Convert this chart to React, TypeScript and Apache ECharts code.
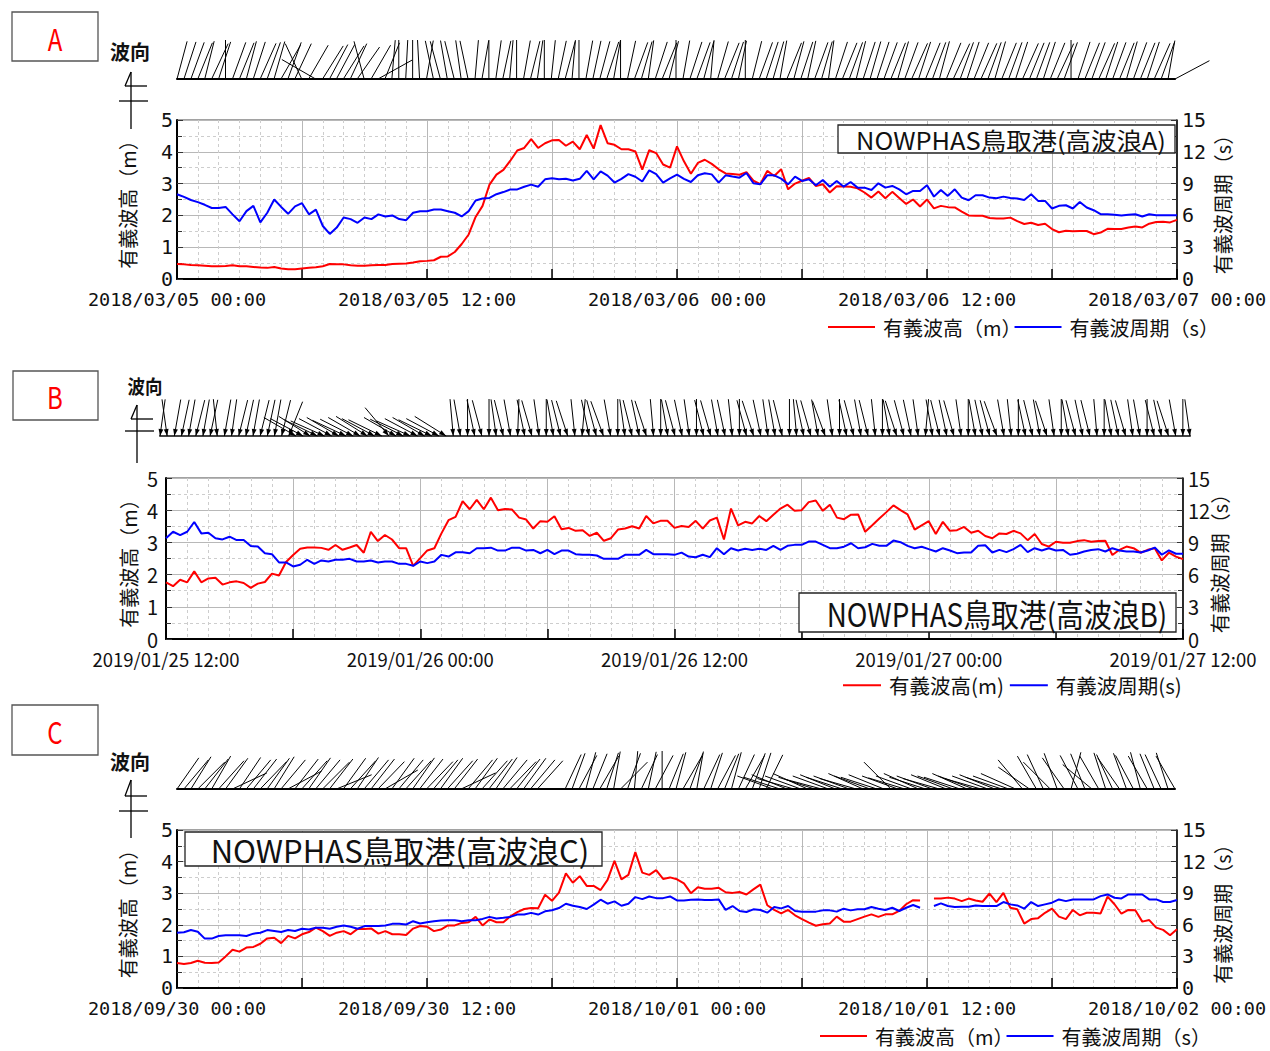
import React, { useEffect, useRef } from 'react';
import * as echarts from 'echarts';

const FONT_CJK = "'Noto Sans CJK JP', 'Noto Sans', sans-serif";
const FONT_MONO = "'DejaVu Sans Mono', 'Noto Sans CJK JP', monospace";

// records every 20 minutes over 48 hours (145 records per series)
const STEP_HOURS = 1 / 3;

// ---------------- Panel A : 2018/03/05 - 2018/03/07 ----------------
const A_TIME_LABELS = ['2018/03/05 00:00', '2018/03/05 12:00', '2018/03/06 00:00', '2018/03/06 12:00', '2018/03/07 00:00'];
const A_HS = [
  0.47, 0.46, 0.44, 0.43, 0.42, 0.40, 0.40, 0.41, 0.43, 0.40,
  0.40, 0.38, 0.36, 0.35, 0.38, 0.33, 0.31, 0.31, 0.33, 0.35,
  0.37, 0.40, 0.47, 0.46, 0.46, 0.43, 0.42, 0.42, 0.43, 0.44,
  0.44, 0.47, 0.48, 0.49, 0.52, 0.56, 0.57, 0.59, 0.70, 0.71,
  0.85, 1.10, 1.40, 1.95, 2.30, 2.97, 3.28, 3.43, 3.72, 4.04,
  4.12, 4.40, 4.12, 4.27, 4.36, 4.37, 4.19, 4.32, 4.08, 4.53,
  4.10, 4.84, 4.27, 4.22, 4.08, 4.08, 4.01, 3.44, 4.05, 3.96,
  3.60, 3.50, 4.17, 3.70, 3.31, 3.65, 3.75, 3.62, 3.45, 3.32,
  3.30, 3.28, 3.36, 3.09, 2.98, 3.40, 3.24, 3.45, 2.82, 3.00,
  3.09, 3.18, 2.92, 2.98, 2.72, 2.92, 2.91, 2.90, 2.85, 2.72,
  2.56, 2.75, 2.54, 2.74, 2.55, 2.36, 2.50, 2.28, 2.50, 2.22,
  2.30, 2.26, 2.25, 2.12, 2.00, 1.99, 1.99, 1.92, 1.90, 1.90,
  1.93, 1.82, 1.73, 1.77, 1.70, 1.74, 1.57, 1.47, 1.52, 1.50,
  1.51, 1.51, 1.41, 1.46, 1.58, 1.57, 1.57, 1.62, 1.65, 1.62,
  1.74, 1.79, 1.80, 1.78, 1.86,
];
const A_TP = [
  8.0, 7.75, 7.45, 7.25, 7.0, 6.7, 6.7, 6.8, 6.1, 5.45,
  6.4, 6.9, 5.35, 6.25, 7.5, 6.8, 6.15, 6.85, 7.15, 6.1,
  6.55, 5.0, 4.25, 4.85, 5.8, 5.65, 5.3, 5.8, 5.65, 6.1,
  5.9, 6.0, 5.65, 5.55, 6.25, 6.4, 6.4, 6.55, 6.55, 6.4,
  6.25, 5.9, 6.4, 7.4, 7.6, 7.65, 8.0, 8.2, 8.45, 8.45,
  8.7, 8.9, 8.7, 9.4, 9.5, 9.4, 9.45, 9.3, 9.45, 10.2,
  9.4, 10.15, 9.75, 9.1, 9.45, 9.9, 9.65, 9.2, 10.25, 9.9,
  9.1, 9.5, 9.85, 9.45, 9.15, 9.78, 9.97, 9.87, 9.09, 9.78,
  9.66, 9.56, 10.0, 9.03, 8.93, 9.78, 9.78, 9.47, 8.93, 9.66,
  9.25, 9.40, 8.84, 9.34, 8.71, 9.25, 8.71, 9.15, 8.62, 8.62,
  8.40, 9.03, 8.62, 8.78, 8.46, 7.99, 8.31, 8.31, 8.84, 7.77,
  8.40, 7.84, 8.46, 7.68, 7.43, 7.9, 7.9, 7.68, 7.62, 7.77,
  7.65, 7.59, 7.46, 7.99, 7.37, 7.37, 6.65, 6.9, 6.96, 6.65,
  7.27, 6.74, 6.49, 6.11, 6.11, 6.05, 5.99, 6.05, 6.11, 5.89,
  6.11, 6.02, 6.02, 6.02, 6.02,
];
// wave direction, degrees from north (clockwise)
const A_DIR = [
  15, 18, 20, 22, 14, 25, 18, 0, 20, 22, 15, 18, 24, 20, 16, 30,
  20, 25, -25, 30, -60, 32, 28,
  28, 32, 25, 35, -15, 30, 61, 22, 5, 0, 3,
  0, -3, 10, -12, -15, -10, -14, -8, -12, 5, 10, 0, 8, 12, 5, 0, 10, 14, 8, 0, 6, 12, 15, 5, 0, 10, 12,
  15, 18, 10, 0, 12, 20, 16, 8, 18, 22, 14, 0, 10, 18, 20, 15, 5, 16, 22, 18,
  12, 0, 14, 20, 18, 16, 10, 22, 15, 18, 12, 20, 16, 8, 18, 22, 20, 14, 18, 16,
  18, 20, 22, 16, 20, 24, 18, 22, 20, 15, 22, 25, 20, 18, 22, 24, 20, 16, 22, 20, 18, 24,
  22, 20, 18, 22, 25, 20, 0, 18, 22, 20, 24, 18, 20, 22, 16, 20, 22, 18, 24, 20, 10,
  62,
];

// ---------------- Panel B : 2019/01/25 12:00 - 2019/01/27 12:00 ----------------
const B_TIME_LABELS = ['2019/01/25 12:00', '2019/01/26 00:00', '2019/01/26 12:00', '2019/01/27 00:00', '2019/01/27 12:00'];
const B_HS = [
  1.76, 1.64, 1.84, 1.76, 2.10, 1.76, 1.88, 1.90, 1.69, 1.76,
  1.79, 1.74, 1.59, 1.72, 1.77, 2.03, 1.97, 2.39, 2.61, 2.80,
  2.84, 2.84, 2.83, 2.77, 2.92, 2.77, 2.84, 2.92, 2.68, 3.33,
  3.04, 3.23, 3.09, 2.82, 2.82, 2.27, 2.51, 2.75, 2.82, 3.28,
  3.69, 3.79, 4.28, 4.03, 4.32, 4.03, 4.39, 4.00, 4.04, 4.02,
  3.77, 3.71, 3.43, 3.66, 3.64, 3.81, 3.41, 3.45, 3.36, 3.38,
  3.20, 3.30, 3.05, 3.13, 3.40, 3.43, 3.50, 3.43, 3.82, 3.59,
  3.67, 3.67, 3.45, 3.51, 3.48, 3.67, 3.43, 3.68, 3.77, 3.09,
  4.05, 3.53, 3.64, 3.59, 3.82, 3.66, 3.86, 4.05, 4.17, 3.98,
  4.00, 4.25, 4.30, 3.98, 4.17, 3.77, 3.72, 3.86, 3.87, 3.33,
  3.53, 3.74, 3.94, 4.15, 4.00, 3.87, 3.40, 3.53, 3.66, 3.26,
  3.64, 3.36, 3.38, 3.48, 3.30, 3.36, 3.20, 3.13, 3.28, 3.26,
  3.36, 3.28, 3.07, 3.26, 2.95, 2.87, 3.02, 2.99, 2.99, 3.04,
  3.07, 3.02, 3.04, 3.05, 2.61, 2.77, 2.87, 2.82, 2.68, 2.77,
  2.82, 2.44, 2.68, 2.56, 2.48,
];
const B_TP = [
  9.38, 9.99, 9.68, 9.99, 10.9, 9.84, 9.9, 9.38, 9.28, 9.53,
  9.22, 9.22, 8.67, 8.61, 7.99, 7.9, 7.13, 7.13, 6.76, 6.92,
  7.38, 7.0, 7.32, 7.22, 7.38, 7.38, 7.47, 7.22, 7.22, 7.32,
  7.13, 7.22, 7.22, 7.0, 7.0, 6.82, 7.22, 7.07, 7.22, 7.84,
  7.68, 8.08, 8.08, 7.99, 8.45, 8.45, 8.51, 8.24, 8.24, 8.51,
  8.51, 8.24, 8.3, 7.99, 8.3, 7.9, 8.24, 8.24, 7.9, 7.84,
  7.84, 7.78, 7.47, 7.47, 7.47, 7.84, 7.84, 7.84, 8.3, 7.9,
  7.9, 7.9, 7.84, 8.05, 7.68, 7.62, 7.85, 7.63, 8.46, 7.9,
  8.46, 8.25, 8.4, 8.3, 8.4, 8.3, 8.68, 8.3, 8.68, 8.77,
  8.77, 9.08, 9.08, 8.77, 8.46, 8.46, 8.6, 8.92, 8.46, 8.55,
  8.86, 8.68, 8.68, 9.17, 9.02, 8.68, 8.46, 8.6, 8.37, 8.15,
  8.46, 8.25, 8.0, 8.06, 8.06, 8.68, 8.74, 8.06, 8.3, 8.09,
  8.37, 8.77, 8.09, 8.46, 8.25, 8.46, 8.25, 8.3, 7.85, 7.94,
  8.15, 8.3, 8.37, 8.15, 8.46, 8.25, 8.15, 8.15, 8.06, 8.25,
  8.52, 7.85, 8.25, 7.94, 7.94,
];
const B_DIR = [
  8, -8, 10, 12, 10, 14, 10, 12, -6, 10, 8, 14, 12, 10, 14, 12, 10, 14, 22,
  -60, -62, -58, -64, -66, -62, -60, -65, -63, -60, -58, -62, -64, -40, -60, -63, -66, -62, -60, -64, -62, -58,
  -5, -10, 0, -12, -15, 0, -8, -14, -10, 2,
  -12, -16, -8, 0, -10, -14, -18, -6, 5, -12,
  -15, -20, -10, 0, -8, -14, -12, -18, -5, 0,
  -10, -15, -12, -8, 0, -14, -16, -10, -12, -6,
  0, -15, -18, -12, -8, -10, -14, 0, -5, -12,
  -16, -10, -20, -8, 0, -12, -15, -10, -14, -6,
  0, -10, -18, -15, -12, -8, 5, -10, -14, -12,
  -16, -8, 0, -10, -12, -15, -20, -10, -6, 0,
  -12, -14, -10, -18, -8, 0, -10, -15, -12, -14,
  -5, 0, -10, -12, -16, -8, -10, 0, -14, -12,
  -18, -10, 0, -8,
];

// ---------------- Panel C : 2018/09/30 - 2018/10/02 ----------------
const C_TIME_LABELS = ['2018/09/30 00:00', '2018/09/30 12:00', '2018/10/01 00:00', '2018/10/01 12:00', '2018/10/02 00:00'];
const C_HS = [
  0.79, 0.76, 0.79, 0.86, 0.80, 0.79, 0.81, 1.00, 1.21, 1.15,
  1.28, 1.30, 1.40, 1.57, 1.59, 1.42, 1.65, 1.57, 1.70, 1.77,
  1.91, 1.80, 1.65, 1.75, 1.80, 1.70, 1.87, 1.87, 1.88, 1.72,
  1.80, 1.70, 1.70, 1.68, 1.88, 1.96, 1.94, 1.80, 1.85, 1.98,
  1.98, 2.06, 2.08, 2.25, 1.98, 2.17, 2.08, 2.08, 2.27, 2.40,
  2.50, 2.53, 2.52, 2.95, 2.76, 3.02, 3.63, 3.33, 3.54, 3.23,
  3.23, 3.10, 3.42, 4.02, 3.44, 3.58, 4.30, 3.65, 3.58, 3.73,
  3.45, 3.50, 3.44, 3.31, 3.00, 3.19, 3.14, 3.14, 3.17, 3.03,
  3.01, 3.04, 2.96, 3.12, 3.27, 2.62, 2.47, 2.36, 2.47, 2.30,
  2.18, 2.07, 1.97, 2.02, 2.04, 2.26, 2.10, 2.10, 2.18, 2.26,
  2.33, 2.25, 2.33, 2.33, 2.44, 2.65, 2.78, 2.77, null, 2.83,
  2.83, 2.86, 2.83, 2.75, 2.83, 2.77, 2.73, 2.99, 2.72, 3.01,
  2.54, 2.49, 2.04, 2.18, 2.21, 2.38, 2.51, 2.26, 2.18, 2.47,
  2.30, 2.38, 2.38, 2.36, 2.89, 2.65, 2.35, 2.47, 2.46, 2.10,
  2.15, 1.91, 1.84, 1.67, 1.86,
];
const C_TP = [
  5.25, 5.3, 5.5, 5.34, 4.69, 4.69, 4.94, 5.0, 5.0, 5.0,
  4.94, 5.16, 5.25, 5.5, 5.41, 5.31, 5.5, 5.41, 5.63, 5.56,
  5.72, 5.72, 5.63, 5.81, 5.94, 5.81, 5.63, 5.88, 5.88, 5.88,
  5.94, 6.09, 6.09, 6.03, 6.34, 6.13, 6.25, 6.34, 6.41, 6.44,
  6.44, 6.34, 6.44, 6.44, 6.56, 6.75, 6.59, 6.66, 6.75, 6.97,
  6.97, 7.13, 6.97, 7.28, 7.38, 7.59, 8.0, 7.81, 7.69, 7.5,
  7.91, 8.38, 8.0, 8.22, 7.81, 8.0, 8.63, 8.44, 8.69, 8.53,
  8.53, 8.69, 8.31, 8.31, 8.38, 8.41, 8.35, 8.35, 8.41, 7.41,
  7.78, 7.31, 7.22, 7.47, 7.41, 7.15, 7.69, 7.56, 7.78, 7.31,
  7.25, 7.25, 7.25, 7.37, 7.37, 7.25, 7.53, 7.37, 7.47, 7.47,
  7.69, 7.53, 7.41, 7.62, 7.31, 7.62, 7.88, 7.62, null, 7.78,
  8.03, 7.78, 7.69, 7.72, 7.72, 7.84, 7.78, 7.78, 7.78, 8.16,
  7.94, 7.84, 7.53, 8.16, 7.78, 7.94, 8.1, 8.41, 8.25, 8.41,
  8.41, 8.41, 8.41, 8.72, 8.88, 8.57, 8.5, 8.88, 8.88, 8.88,
  8.41, 8.41, 8.16, 8.16, 8.35,
];
const C_DIR = [
  35, 40, 32, 45, 38, 30, 42, 36, 65, 34,
  40, 38, 44, 36, 32, 40, 62, 38, 42, 35,
  40, 45, 38, 68, 36, 42, 34, 40, 38, 44,
  60, 36, 40, 42, 35, 38, 44, 40, 36, 42,
  38, 65, 40, 36, 42, 38, 34, 40, 44, 38,
  36, 40, 42,
  null, null, null,
  25, 20, 28, 15, 22, 30, 18, 10, 45, 20,
  5, 25, 12, 28, 0, 22, 15, 30, 20, 10,
  25, 18, 28, 22, 15, 25, 30, 20, 18, 26,
  -70, -72, -68, -74, -70, -66, -72, -75, -70, -68,
  -72, -70, -74, -66, -70, -72, -68, -45, -70, -73,
  -70, -66, -72, -70, -74, -68, -70, -72, -66, -70,
  -74, -70, -68, -72, -70, -66,
  -40, -55, -30, -25, -45, -20, -35, 15, -28, -22,
  -50, -30, -18, -25, -35, -20, -28, -15, -30, -22,
  -25, -18, -30,
];

const HS_FULL = '有義波高（m）';
const TP_FULL = '有義波周期（s）';
const HS_HALF = '有義波高(m)';
const TP_HALF = '有義波周期(s)';

type Panel = {
  chart: { left: number; top: number; width: number; height: number };
  strip: { left: number; width: number; baseline: number; len: number; arrows: boolean };
  labels: string[];
  labelFont: string;
  labelSize: number;
  leftLabelMargin: number;
  hs: (number | null)[];
  tp: (number | null)[];
  dir: (number | null)[];
  hsName: string;
  tpName: string;
  leftName: string;
  rightName: string;
  leftGap: number;
  rightGap: number;
  legend: { left: number; top: number; itemWidth: number; itemGap: number; fontSize: number };
};

const PANELS: Panel[] = [
  {
    chart: { left: 177, top: 120, width: 1000, height: 159 },
    strip: { left: 177, width: 998, baseline: 79, len: 39, arrows: false },
    labels: A_TIME_LABELS, labelFont: FONT_MONO, labelSize: 18.5, leftLabelMargin: 4,
    hs: A_HS, tp: A_TP, dir: A_DIR,
    hsName: HS_FULL, tpName: TP_FULL, leftName: HS_FULL, rightName: TP_FULL,
    leftGap: 40, rightGap: 35,
    legend: { left: 828, top: 317, itemWidth: 47, itemGap: -7, fontSize: 20 },
  },
  {
    chart: { left: 166, top: 478, width: 1017, height: 161 },
    strip: { left: 160, width: 1030, baseline: 436, len: 37, arrows: true },
    labels: B_TIME_LABELS, labelFont: FONT_CJK, labelSize: 18.5, leftLabelMargin: 8,
    hs: B_HS, tp: B_TP, dir: B_DIR,
    hsName: HS_HALF, tpName: TP_HALF, leftName: HS_FULL, rightName: TP_FULL,
    leftGap: 28, rightGap: 26,
    legend: { left: 843, top: 675, itemWidth: 38, itemGap: 6, fontSize: 20.5 },
  },
  {
    chart: { left: 177, top: 830, width: 1000, height: 158 },
    strip: { left: 177, width: 998, baseline: 789, len: 38, arrows: false },
    labels: C_TIME_LABELS, labelFont: FONT_MONO, labelSize: 18.5, leftLabelMargin: 4,
    hs: C_HS, tp: C_TP, dir: C_DIR,
    hsName: HS_FULL, tpName: TP_FULL, leftName: HS_FULL, rightName: TP_FULL,
    leftGap: 40, rightGap: 35,
    legend: { left: 820, top: 1026, itemWidth: 47, itemGap: -7, fontSize: 20 },
  },
];

const toPairs = (values: (number | null)[]) => values.map((v, i) => [i * STEP_HOURS, v]);

function buildOption() {
  const grid: any[] = [];
  const xAxis: any[] = [];
  const yAxis: any[] = [];
  const series: any[] = [];
  const legend: any[] = [];

  PANELS.forEach((p, k) => {
    grid.push({
      left: p.chart.left, top: p.chart.top, width: p.chart.width, height: p.chart.height,
      show: true, borderColor: '#444', borderWidth: 1, backgroundColor: 'transparent',
    });
    grid.push({
      left: p.strip.left, top: p.strip.baseline - 40, width: p.strip.width, height: 40,
    });

    xAxis.push({
      gridIndex: 2 * k, type: 'value', min: 0, max: 48, interval: 6,
      axisLine: { show: true, onZero: false, lineStyle: { color: '#000', width: 2 } },
      axisTick: { show: true, inside: true, length: 10, lineStyle: { color: '#000', width: 1.5 } },
      minorTick: { show: false, splitNumber: 6 },
      splitLine: { show: true, lineStyle: { color: '#b8b8b8', width: 1 } },
      minorSplitLine: { show: true, lineStyle: { color: '#cdcdcd', width: 1, type: [3, 3] } },
      axisLabel: {
        margin: 11, color: '#111', fontSize: p.labelSize, fontFamily: p.labelFont,
        formatter: (v: number) => (v % 12 === 0 ? p.labels[Math.round(v / 12)] : ''),
      },
    });
    xAxis.push({
      gridIndex: 2 * k + 1, type: 'value', min: 0, max: 48,
      axisLine: { show: true, onZero: false, lineStyle: { color: p.strip.arrows ? '#444' : '#000', width: 2 } },
      axisTick: { show: false }, axisLabel: { show: false }, splitLine: { show: false },
    });

    const nameStyle = { fontSize: 20, fontFamily: FONT_CJK, color: '#111' };
    yAxis.push({
      gridIndex: 2 * k, type: 'value', min: 0, max: 5, interval: 1, position: 'left',
      name: p.leftName, nameLocation: 'middle', nameRotate: 90, nameGap: p.leftGap, nameTextStyle: nameStyle,
      nameMoveOverlap: false,
      axisLine: { show: true, lineStyle: { color: '#000', width: 2 } },
      axisTick: { show: true, inside: true, length: 6, lineStyle: { color: '#333' } },
      minorTick: { show: true, splitNumber: 2, length: 5, lineStyle: { color: '#333' } },
      splitLine: { show: true, lineStyle: { color: '#b8b8b8', width: 1 } },
      minorSplitLine: { show: true, lineStyle: { color: '#cdcdcd', width: 1, type: [3, 3] } },
      axisLabel: { margin: p.leftLabelMargin, fontSize: 20, color: '#111', fontFamily: p.labelFont },
    });
    yAxis.push({
      gridIndex: 2 * k, type: 'value', min: 0, max: 15, interval: 3, position: 'right',
      name: p.rightName, nameLocation: 'middle', nameRotate: 90, nameGap: p.rightGap, nameTextStyle: nameStyle,
      nameMoveOverlap: false,
      axisLine: { show: true, lineStyle: { color: '#000', width: 1.5 } },
      axisTick: { show: true, inside: true, length: 6, lineStyle: { color: '#333' } },
      minorTick: { show: true, splitNumber: 2, length: 5, lineStyle: { color: '#333' } },
      splitLine: { show: false },
      axisLabel: { margin: 5, fontSize: 20, color: '#111', fontFamily: p.labelFont },
    });
    yAxis.push({ gridIndex: 2 * k + 1, type: 'value', min: 0, max: 1, show: false });

    series.push({
      type: 'line', name: p.hsName, xAxisIndex: 2 * k, yAxisIndex: 3 * k,
      data: toPairs(p.hs), symbol: 'none', showSymbol: false, connectNulls: false,
      lineStyle: { color: '#ff0000', width: 2 }, itemStyle: { color: '#ff0000' }, z: 3,
    });
    series.push({
      type: 'line', name: p.tpName, xAxisIndex: 2 * k, yAxisIndex: 3 * k + 1,
      data: toPairs(p.tp), symbol: 'none', showSymbol: false, connectNulls: false,
      lineStyle: { color: '#0000ff', width: 2 }, itemStyle: { color: '#0000ff' }, z: 3,
    });
    const L = p.strip.len;
    const arrows = p.strip.arrows;
    series.push({
      type: 'custom', name: 'dir' + k, xAxisIndex: 2 * k + 1, yAxisIndex: 3 * k + 2, silent: true,
      data: toPairs(p.dir).filter((d) => d[1] !== null),
      renderItem: (params: any, api: any) => {
        const t = api.value(0);
        const ang = api.value(1);
        const base = api.coord([t, 0]);
        const r = (ang * Math.PI) / 180;
        const ux = Math.sin(r);
        const uy = -Math.cos(r);
        const children: any[] = [
          {
            type: 'line',
            shape: { x1: base[0], y1: base[1], x2: base[0] + L * ux, y2: base[1] + L * uy },
            style: { stroke: '#000', lineWidth: 1 },
          },
        ];
        if (arrows) {
          const h = 7, w = 2.4;
          const bx = base[0] + h * ux, by = base[1] + h * uy;
          children.push({
            type: 'polygon',
            shape: { points: [[base[0], base[1]], [bx - w * uy, by + w * ux], [bx + w * uy, by - w * ux]] },
            style: { fill: '#000' },
          });
        }
        return { type: 'group', children };
      },
    });

    legend.push({
      left: p.legend.left, top: p.legend.top, orient: 'horizontal', padding: 0,
      itemWidth: p.legend.itemWidth, itemHeight: 2, itemGap: p.legend.itemGap, icon: 'rect',
      selectedMode: false,
      textStyle: { fontSize: p.legend.fontSize, fontFamily: FONT_CJK, color: '#111', padding: [0, 0, 0, 3] },
      data: [p.hsName, p.tpName],
    });
  });

  const line = (x1: number, y1: number, x2: number, y2: number) => ({
    type: 'line', z: 100, shape: { x1, y1, x2, y2 }, style: { stroke: '#000', lineWidth: 1.3 },
  });
  const box = (x: number, y: number, w: number, h: number, stroke: string) => ({
    type: 'rect', z: 100, shape: { x, y, width: w, height: h },
    style: { fill: '#fff', stroke, lineWidth: 1.3 },
  });
  const text = (x: number, y: number, s: string, font: string, fill: string, scaleX = 1) => ({
    type: 'text', z: 101, x, y, scaleX,
    style: { x: 0, y: 0, text: s, font, fill, align: 'center', verticalAlign: 'middle' },
  });
  const north = (x: number, top: number, shortY: number, longY: number, bottom: number) => [
    line(x, top, x, bottom),
    line(x - 12, longY, x + 17, longY),
    line(x - 6, shortY, x + 16, shortY),
    line(x, top, x - 6, shortY),
  ];

  const graphic: any[] = [
    // Panel A
    box(12, 12, 86, 49, '#555'),
    text(55, 38, 'A', `30px ${FONT_CJK}`, '#ff0000', 0.8),
    text(130, 51, '波向', `bold 20px ${FONT_CJK}`, '#111'),
    ...north(131, 72, 86, 101, 129),
    box(838, 125, 337, 28, '#222'),
    text(1011, 139.5, 'NOWPHAS鳥取港(高波浪A)', `24px ${FONT_CJK}`, '#111', 1.06),
    // Panel B
    box(13, 371, 85, 49, '#555'),
    text(55, 396, 'B', `30px ${FONT_CJK}`, '#ff0000', 0.8),
    text(145, 386, '波向', `bold 19px ${FONT_CJK}`, '#111', 0.92),
    ...north(137, 405, 419, 431, 463),
    box(799, 593, 377, 39, '#222'),
    text(997, 613, 'NOWPHAS鳥取港(高波浪B)', `32px ${FONT_CJK}`, '#111', 0.87),
    // Panel C
    box(12, 705, 86, 50, '#555'),
    text(55, 731, 'C', `30px ${FONT_CJK}`, '#ff0000', 0.8),
    text(130, 761, '波向', `bold 20px ${FONT_CJK}`, '#111'),
    ...north(131, 780, 796, 811, 838),
    box(185, 832, 417, 34, '#222'),
    text(400, 849.5, 'NOWPHAS鳥取港(高波浪C)', `31px ${FONT_CJK}`, '#111'),
  ];

  return {
    animation: false,
    backgroundColor: '#fff',
    grid, xAxis, yAxis, series, legend, graphic,
  };
}

export default function App() {
  const ref = useRef<HTMLDivElement>(null);
  useEffect(() => {
    document.body.style.margin = '0';
    if (!ref.current) return;
    const chart = echarts.init(ref.current, undefined, { renderer: 'svg' });
    chart.setOption(buildOption() as any);
    return () => chart.dispose();
  }, []);
  return <div ref={ref} style={{ width: 1270, height: 1051 }} />;
}
